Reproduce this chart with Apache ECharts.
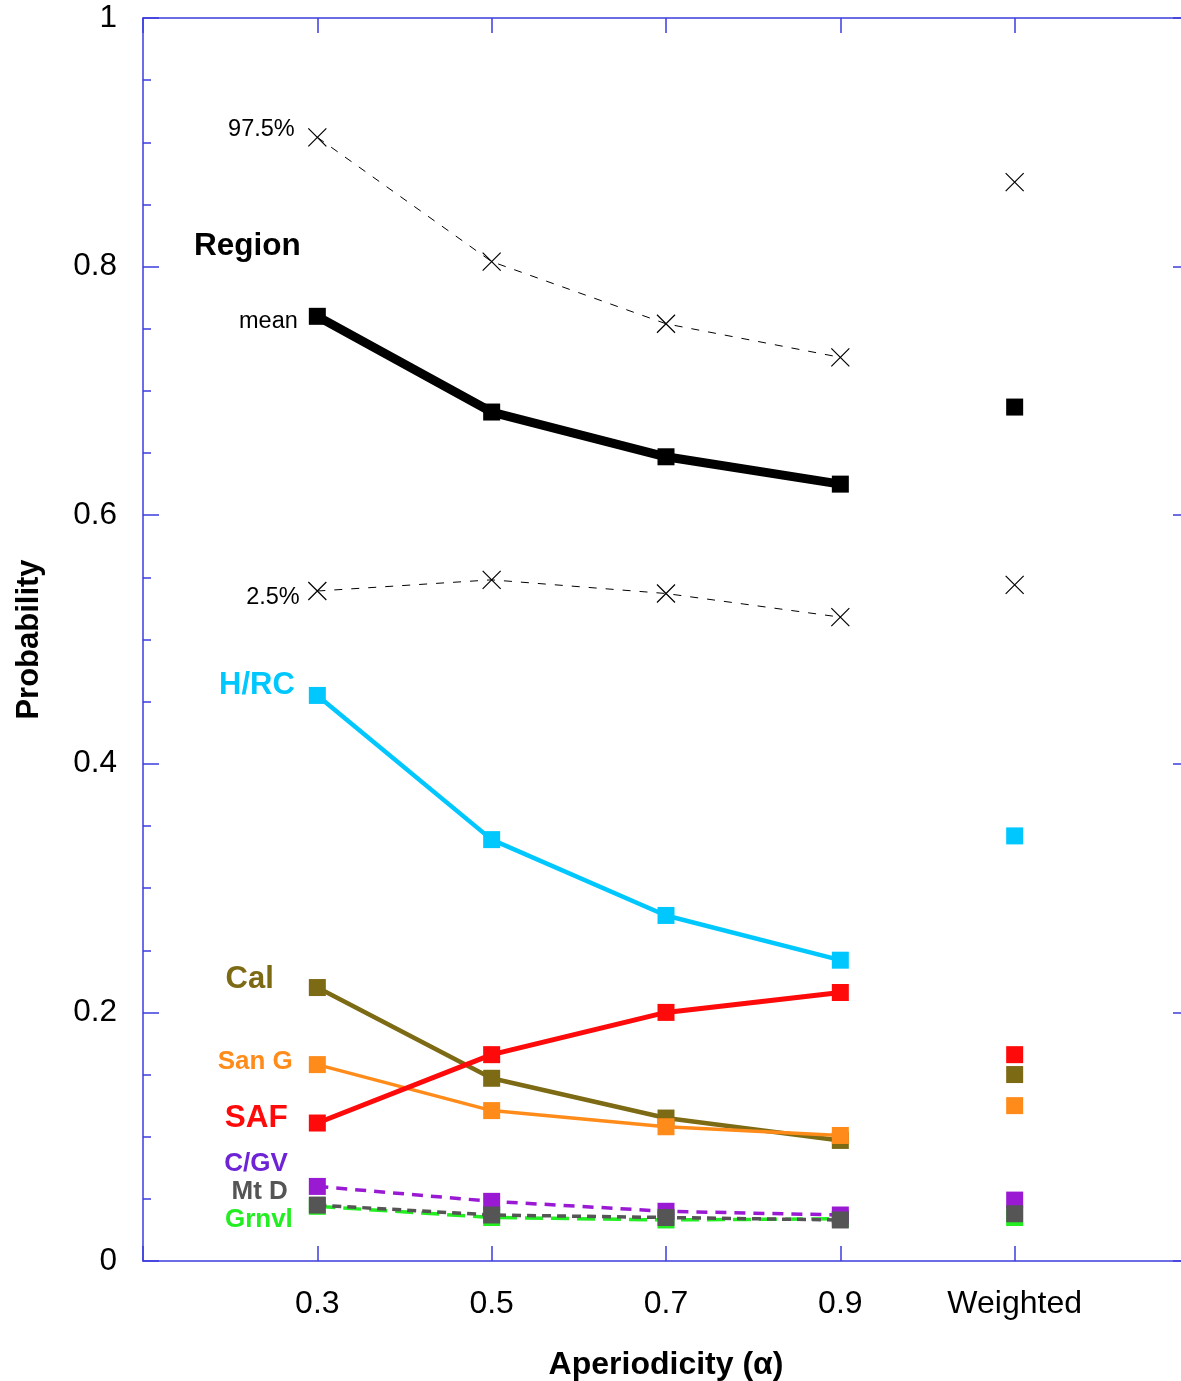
<!DOCTYPE html>
<html>
<head>
<meta charset="utf-8">
<script src="https://cdn.jsdelivr.net/npm/echarts@6/dist/echarts.min.js"></script>
<style>
  html, body { margin: 0; padding: 0; background: #fff; }
  #chart { width: 1181px; height: 1381px; }
</style>
</head>
<body>
<div id="chart"></div>
<script>
// aperiodicity values (x) and the separate "Weighted" column
const alphas = [0.3, 0.5, 0.7, 0.9];
const weightedX = 1.1;
const xTickLabels = { '0.3': '0.3', '0.5': '0.5', '0.7': '0.7', '0.9': '0.9', '1.1': 'Weighted' };

// region probabilities
const regionMean = [0.760, 0.683, 0.647, 0.625];
const regionMeanW = 0.687;
const region975 = [0.904, 0.804, 0.754, 0.727];
const region975W = 0.868;
const region025 = [0.539, 0.548, 0.537, 0.518];
const region025W = 0.544;

// fault probabilities
const hrc = [0.455, 0.339, 0.278, 0.242];
const hrcW = 0.342;
const cal = [0.220, 0.147, 0.115, 0.097];
const calW = 0.150;
const sanG = [0.158, 0.121, 0.108, 0.101];
const sanGW = 0.125;
const saf = [0.111, 0.166, 0.200, 0.216];
const safW = 0.166;
const grnvl = [0.044, 0.035, 0.033, 0.034];
const grnvlW = 0.035;
const cgv = [0.060, 0.048, 0.040, 0.037];
const cgvW = 0.049;
const mtD = [0.045, 0.037, 0.035, 0.033];
const mtDW = 0.038;

const FONT = '"Liberation Sans", Arial, sans-serif';
const AXIS_BLUE = '#3c3ce0';
const CROSS = 'path://M0,0L10,10M10,0L0,10';

// one connected line over the alphas, one lone point for Weighted
function makeSeries(name, vals, wVal, opt) {
    const data = alphas.map((a, i) => [a, vals[i]]);
    data[0] = {
        value: data[0],
        label: {
            show: true,
            formatter: opt.label,
            position: 'left',
            distance: 0,
            offset: opt.offset,
            color: opt.labelColor || opt.color,
            fontFamily: FONT,
            fontSize: opt.fontSize,
            fontWeight: opt.bold ? 'bold' : 'normal'
        }
    };
    const itemStyle = opt.cross
        ? { color: 'rgba(0,0,0,0)', borderColor: opt.color, borderWidth: 1.2, opacity: 1 }
        : { color: opt.color, opacity: 1 };
    const sym = opt.cross ? CROSS : 'rect';
    const size = opt.cross ? 18 : 17;
    return [
        {
            name: name,
            type: 'line',
            data: data,
            symbol: sym,
            symbolSize: size,
            showAllSymbol: true,
            z: opt.z,
            itemStyle: itemStyle,
            lineStyle: { color: opt.color, width: opt.width, type: opt.dash || 'solid' },
            animation: false
        },
        {
            name: name + ' weighted',
            type: 'scatter',
            data: [[weightedX, wVal]],
            symbol: sym,
            symbolSize: size,
            z: opt.z,
            itemStyle: itemStyle,
            animation: false
        }
    ];
}

const series = [].concat(
    makeSeries('97.5%', region975, region975W, { color: '#000', width: 1, dash: [8, 9], cross: true, label: '97.5%', offset: [-13, -8], fontSize: 23.5, z: 2 }),
    makeSeries('2.5%', region025, region025W, { color: '#000', width: 1, dash: [8, 9], cross: true, label: '2.5%', offset: [-8, 6], fontSize: 23.5, z: 2 }),
    makeSeries('mean', regionMean, regionMeanW, { color: '#000', width: 9, label: 'mean', offset: [-11, 5], fontSize: 23.5, z: 3 }),
    makeSeries('H/RC', hrc, hrcW, { color: '#00c8ff', width: 4.5, label: 'H/RC', offset: [-14, -10], fontSize: 31, bold: true, z: 3 }),
    makeSeries('Cal', cal, calW, { color: '#7d6a14', width: 4.5, label: 'Cal', offset: [-35, -8], fontSize: 31, bold: true, z: 3 }),
    makeSeries('San G', sanG, sanGW, { color: '#ff8c1a', width: 3.5, label: 'San G', offset: [-16, -3], fontSize: 26, bold: true, z: 4 }),
    makeSeries('SAF', saf, safW, { color: '#ff0a0a', width: 5, label: 'SAF', offset: [-21, -5], fontSize: 31.5, bold: true, z: 5 }),
    makeSeries('Grnvl', grnvl, grnvlW, { color: '#22ee22', width: 3.5, dash: [18, 8], label: 'Grnvl', offset: [-16, 14], fontSize: 26, bold: true, z: 3 }),
    makeSeries('C/GV', cgv, cgvW, { color: '#9a1ad4', labelColor: '#6e24d6', width: 3.5, dash: [11, 8], label: 'C/GV', offset: [-21, -23], fontSize: 26, bold: true, z: 4 }),
    makeSeries('Mt D', mtD, mtDW, { color: '#555555', width: 3.5, dash: [9, 6], label: 'Mt D', offset: [-21, -13], fontSize: 26, bold: true, z: 5 })
);

function xAxisBase() {
    return {
        type: 'value',
        min: 0.1,
        max: 1.3,
        interval: 0.2,
        axisLine: { show: true, onZero: false, lineStyle: { color: AXIS_BLUE, width: 1.5 } },
        axisTick: { show: true, inside: true, length: 15, lineStyle: { color: AXIS_BLUE, width: 1.5 } },
        splitLine: { show: false }
    };
}

function yAxisBase() {
    return {
        type: 'value',
        min: 0,
        max: 1,
        interval: 0.2,
        axisLine: { show: true, onZero: false, lineStyle: { color: AXIS_BLUE, width: 1.5 } },
        axisTick: { show: true, inside: true, length: 16, lineStyle: { color: AXIS_BLUE, width: 1.5 } },
        minorTick: { show: true, splitNumber: 4, length: 8, lineStyle: { color: AXIS_BLUE, width: 1.5 } },
        splitLine: { show: false },
        minorSplitLine: { show: false }
    };
}

const chart = echarts.init(document.getElementById('chart'));
chart.setOption({
    backgroundColor: '#fff',
    animation: false,
    grid: { left: 143, top: 18, bottom: 120, right: -8, containLabel: false, outerBoundsMode: 'none' },
    xAxis: [
        Object.assign(xAxisBase(), {
            position: 'bottom',
            name: 'Aperiodicity (α)',
            nameLocation: 'middle',
            nameGap: 88,
            nameTextStyle: { fontFamily: FONT, fontSize: 32, fontWeight: 'bold', color: '#000' },
            axisLabel: {
                margin: 27,
                fontFamily: FONT,
                fontSize: 32,
                color: '#000',
                formatter: v => xTickLabels[v.toFixed(1)] || ''
            }
        }),
        Object.assign(xAxisBase(), { position: 'top', axisLabel: { show: false } })
    ],
    yAxis: [
        Object.assign(yAxisBase(), {
            position: 'left',
            name: 'Probability',
            nameLocation: 'middle',
            nameGap: 98,
            nameRotate: 90,
            nameTextStyle: { fontFamily: FONT, fontSize: 31, fontWeight: 'bold', color: '#000' },
            axisLabel: { margin: 26, fontFamily: FONT, fontSize: 31.5, color: '#000' }
        }),
        Object.assign(yAxisBase(), { position: 'right', axisLabel: { show: false } })
    ],
    graphic: [
        {
            type: 'text',
            left: 194,
            top: 230,
            style: { text: 'Region', fontFamily: FONT, fontSize: 31.5, fontWeight: 'bold', fill: '#000' }
        }
    ],
    series: series
});
</script>
</body>
</html>
